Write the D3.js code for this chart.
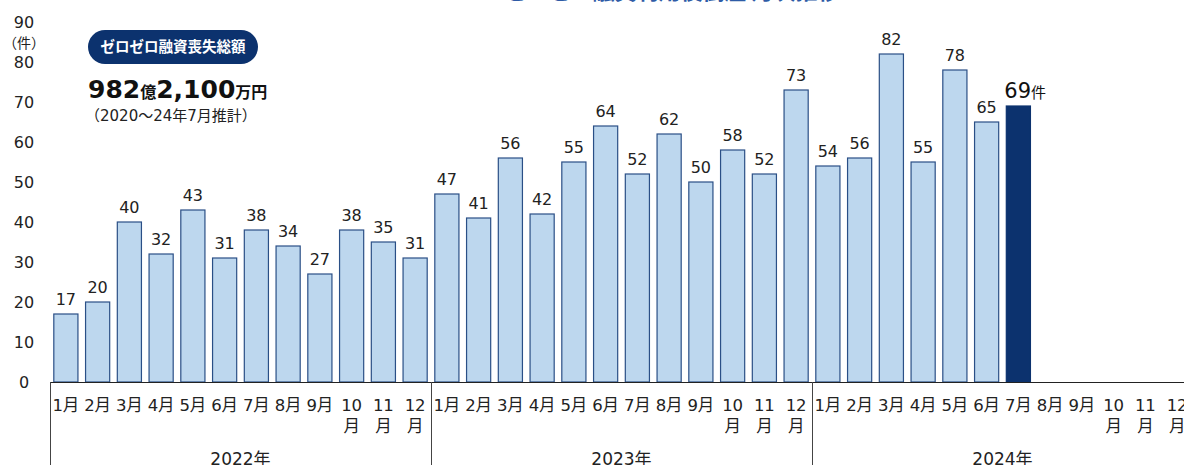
<!DOCTYPE html>
<html><head><meta charset="utf-8">
<script src="https://cdn.jsdelivr.net/npm/d3@7"></script>
<style>body{margin:0;background:#fff;} svg{display:block;font-family:"DejaVu Sans","Noto Sans CJK JP",sans-serif;}</style>
</head><body><svg id="c" width="1184" height="465"></svg>
<script>
const years = ["2022年","2023年","2024年"];
const months = ["1月","2月","3月","4月","5月","6月","7月","8月","9月","10月","11月","12月"];
const v2022 = [17,20,40,32,43,31,38,34,27,38,35,31];
const v2023 = [47,41,56,42,55,64,52,62,50,58,52,73];
const v2024 = [54,56,82,55,78,65,69,null,null,null,null,null];
const yTicks = [0,10,20,30,40,50,60,70,80,90];
const highlightKey = "2024年-7月";

const data = [];
[v2022,v2023,v2024].forEach((arr,yi)=>arr.forEach((v,mi)=>data.push({year:years[yi],month:months[mi],key:years[yi]+"-"+months[mi],value:v})));

const svg = d3.select("#c");
const x0 = 50, yearW = 381;
const x = d3.scaleBand().domain(data.map(d=>d.key)).range([x0, x0+yearW*3]).paddingInner(0.24).paddingOuter(0.12);
const y = d3.scaleLinear().domain([0,90]).range([382,22]);

// title (cropped at top)
svg.append("text").attr("x",672).attr("y",-1).attr("text-anchor","middle")
  .attr("font-size",22).attr("font-weight","bold").attr("fill","#2e5ba6")
  .style("font-family","'Noto Sans CJK JP',sans-serif").text("ゼロゼロ融資利用後倒産 月次推移");

// y tick labels
svg.selectAll(".yt").data(yTicks).join("text").attr("x",24).attr("y",d=>y(d)+6)
  .attr("text-anchor","middle").attr("font-size",16).attr("fill","#222").text(d=>d);
svg.append("text").attr("x",24).attr("y",48).attr("text-anchor","middle").attr("font-size",14).attr("fill","#222")
  .style("font-family","'Noto Sans CJK JP',sans-serif").text("（件）");

// bars
svg.selectAll(".bar").data(data.filter(d=>d.value!=null)).join("rect")
  .attr("x",d=>x(d.key)).attr("width",x.bandwidth())
  .attr("y",d=>y(d.value)).attr("height",d=>y(0)-y(d.value))
  .attr("fill",d=>d.key===highlightKey?"#0c326e":"#bdd7ee")
  .attr("stroke",d=>d.key===highlightKey?"#0c326e":"#2a4f86").attr("stroke-width",1.2);

// value labels
svg.selectAll(".vl").data(data.filter(d=>d.value!=null && d.key!==highlightKey)).join("text")
  .attr("x",d=>x(d.key)+x.bandwidth()/2).attr("y",d=>y(d.value)-9)
  .attr("text-anchor","middle").attr("font-size",16).attr("fill","#222").text(d=>d.value);
const hd = data.find(d=>d.key===highlightKey);
const ht = svg.append("text").attr("x",x(hd.key)-2).attr("y",y(hd.value)-8).attr("fill","#111");
ht.append("tspan").attr("font-size",21).text(hd.value);
ht.append("tspan").attr("font-size",15).text("件");

// baseline
svg.append("line").attr("x1",x0).attr("x2",1184).attr("y1",382.5).attr("y2",382.5).attr("stroke","#222").attr("stroke-width",1.2);
// year separators
[0,1,2].forEach(i=>svg.append("line").attr("x1",x0+yearW*i+0.5).attr("x2",x0+yearW*i+0.5).attr("y1",382).attr("y2",465).attr("stroke","#444").attr("stroke-width",1));

// month labels
const ml = svg.selectAll(".ml").data(data).join("text")
  .attr("x",d=>x(d.key)+x.bandwidth()/2).attr("y",411).attr("text-anchor","middle").attr("font-size",16.5).attr("fill","#222");
ml.each(function(d){
  const t=d3.select(this);
  if(d.month.length>2){
    t.append("tspan").attr("x",x(d.key)+x.bandwidth()/2).text(d.month.slice(0,2));
    t.append("tspan").attr("x",x(d.key)+x.bandwidth()/2).attr("dy",21).text("月");
  } else t.text(d.month);
});
// year labels
svg.selectAll(".yl").data(years).join("text").attr("x",(d,i)=>x0+yearW*i+yearW/2).attr("y",465)
  .attr("text-anchor","middle").attr("font-size",17).attr("fill","#222").text(d=>d);

// badge
svg.append("rect").attr("x",88).attr("y",30).attr("width",170).attr("height",34).attr("rx",17).attr("fill","#0c326e");
svg.append("text").attr("x",173).attr("y",52).attr("text-anchor","middle").attr("font-size",14.5).attr("font-weight","bold").attr("fill","#fff")
  .style("font-family","'Noto Sans CJK JP',sans-serif").text("ゼロゼロ融資喪失総額");
const tt = svg.append("text").attr("x",88).attr("y",98).attr("fill","#111").attr("font-weight","bold");
tt.append("tspan").attr("font-size",25).text("982");
tt.append("tspan").attr("font-size",16).text("億");
tt.append("tspan").attr("font-size",25).text("2,100");
tt.append("tspan").attr("font-size",16).text("万円");
svg.append("text").attr("x",85).attr("y",121).attr("font-size",15).attr("fill","#222").text("（2020～24年7月推計）");
</script></body></html>
